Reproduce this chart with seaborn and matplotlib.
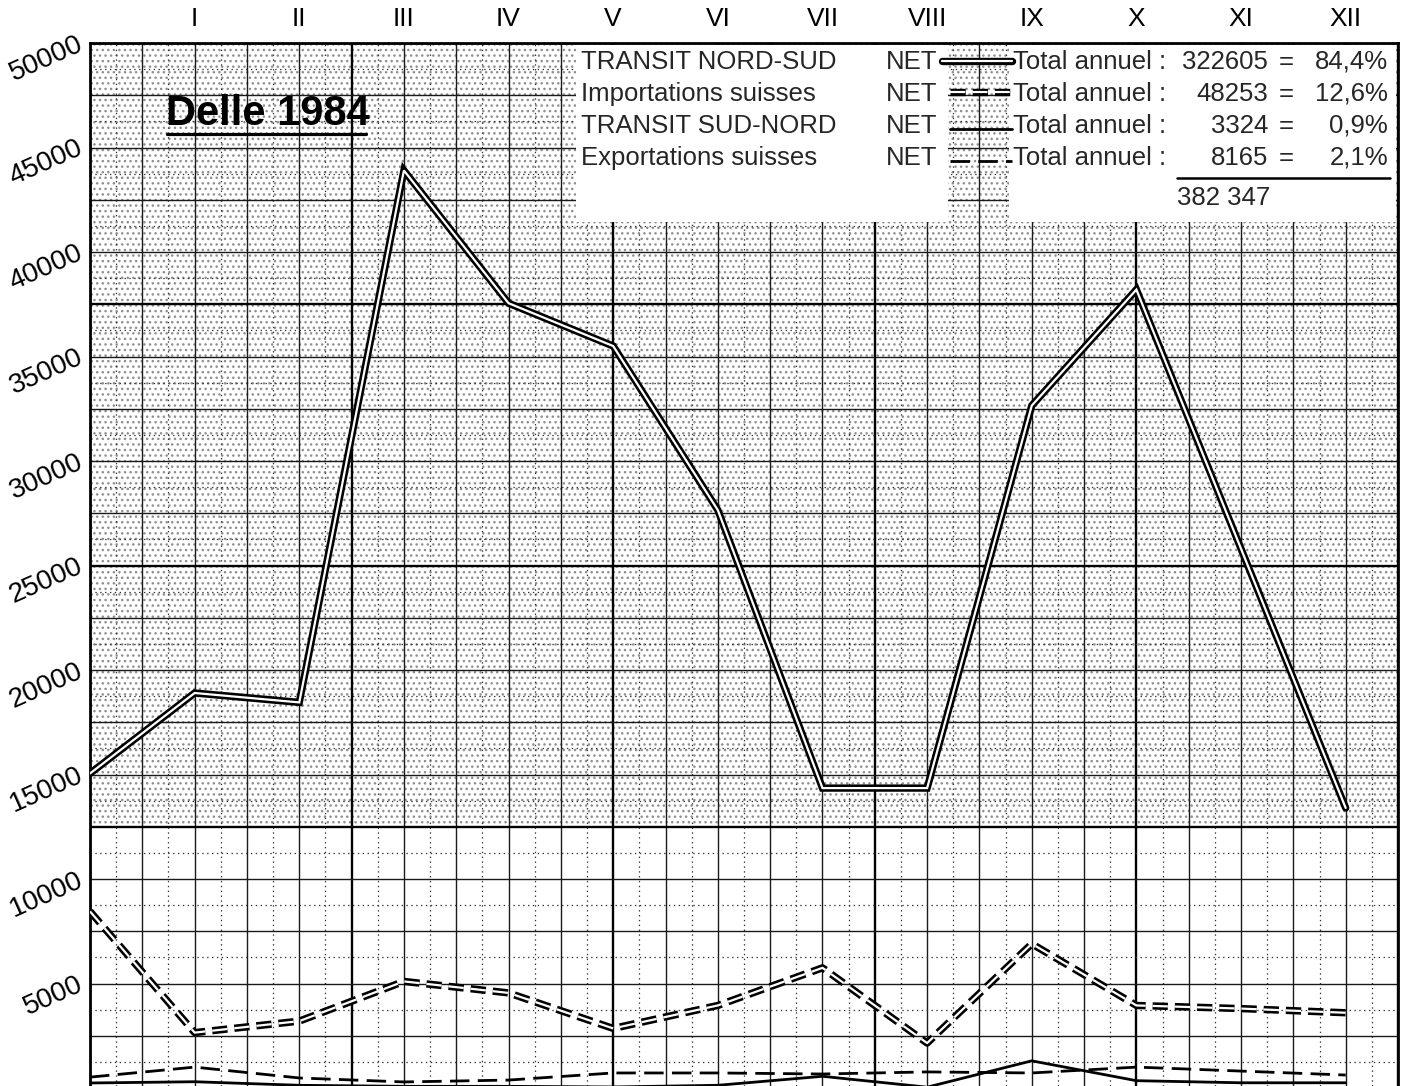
import numpy as np
import pandas as pd
import seaborn as sns
import matplotlib.pyplot as plt
import matplotlib.patheffects as pe
from matplotlib.patches import Rectangle
from matplotlib.lines import Line2D

W, H = 1403, 1086

# month 0 = December of the previous year (starting point of the curves)
months = ["XII 83", "I", "II", "III", "IV", "V", "VI", "VII", "VIII", "IX", "X", "XI", "XII"]
transit_nord_sud = [15050, 18900, 18450, 43900, 37550, 35500, 27650, 14350, 14350, 32650, 38200, 25800, 13400]
importations = [8450, 2650, 3200, 5100, 4550, 2850, 3950, 5750, 2150, 6900, 3950, 3800, 3600]
transit_sud_nord = [240, 300, 130, 80, 80, 50, 130, 560, 40, 1300, 350, 250, 250]
exportations = [520, 1000, 480, 290, 380, 720, 720, 670, 770, 720, 1000, 810, 620]

series_names = ["TRANSIT NORD-SUD", "Importations suisses", "TRANSIT SUD-NORD", "Exportations suisses"]
totals = ["322605", "48253", "3324", "8165"]
shares = ["84,4%", "12,6%", "0,9%", "2,1%"]
grand_total = "382 347"

df = pd.DataFrame({
    "pos": np.arange(len(months)),
    "nord_sud": transit_nord_sud,
    "imports": importations,
    "sud_nord": transit_sud_nord,
    "exports": exportations,
})

sns.set_theme(style="white")
plt.rcParams["font.family"] = ["Liberation Sans", "DejaVu Sans"]
plt.rcParams["lines.scale_dashes"] = False


def fx(px):
    return px / W


def fy(py):
    return 1 - py / H


fig = plt.figure(figsize=(W / 100, H / 100), dpi=100)
ax = fig.add_axes([fx(90), 0, 1308 / W, (H - 43) / H])
ax.set_xlim(0, 12.5)
ax.set_ylim(96, 50000)

# -----------------------------------------------------------------
# graph paper
# -----------------------------------------------------------------
for i, x in enumerate(np.arange(0, 12.51, 0.25)):
    if i % 10 == 0:
        ax.axvline(x, color="black", lw=1.7, zorder=1)
    elif i % 2 == 0:
        ax.axvline(x, color="#1a1a1a", lw=1.0, zorder=1)
    else:
        ax.axvline(x, color="#333333", lw=0.9, ls=(0, (1, 2.5)), zorder=1)

for i, y in enumerate(np.arange(0, 50001, 1250)):
    if i % 10 == 0:
        ax.axhline(y, color="black", lw=1.7, zorder=1)
    elif i % 2 == 0:
        ax.axhline(y, color="#1a1a1a", lw=1.0, zorder=1)
    else:
        ax.axhline(y, color="#333333", lw=0.9, ls=(0, (1, 2.5)), zorder=1)

# halftone dots of the printed paper (upper band only)
ax.add_patch(Rectangle((0, 12500), 12.5, 37500, facecolor="none",
                       edgecolor="#8f8f8f", hatch="...", lw=0, zorder=0.5))

# -----------------------------------------------------------------
# curves
# -----------------------------------------------------------------
double = [pe.Stroke(linewidth=5.3, foreground="black"), pe.Normal()]

sns.lineplot(data=df, x="pos", y="nord_sud", color="white", linewidth=1.6,
             path_effects=double, solid_joinstyle="miter", ax=ax, zorder=6)
sns.lineplot(data=df, x="pos", y="imports", color="white", linewidth=1.6,
             linestyle=(0, (11, 5)), dash_capstyle="butt",
             path_effects=double, ax=ax, zorder=6)
sns.lineplot(data=df, x="pos", y="sud_nord", color="black", linewidth=2.0,
             ax=ax, zorder=5)
sns.lineplot(data=df, x="pos", y="exports", color="black", linewidth=2.0,
             linestyle=(0, (14, 6)), dash_capstyle="butt", ax=ax, zorder=5)

# -----------------------------------------------------------------
# axes
# -----------------------------------------------------------------
ax.xaxis.tick_top()
ax.set_xticks(df["pos"][1:])
ax.set_xticklabels(months[1:])
ax.tick_params(axis="x", length=0, pad=9, labelsize=19, colors="black")

yt = list(range(5000, 50001, 5000))
ax.set_yticks(yt)
ax.set_yticklabels([str(v) for v in yt], rotation=24, rotation_mode="anchor",
                   ha="right", va="center")
ax.tick_params(axis="y", length=0, pad=6, labelsize=20, colors="black")
ax.set_xlabel("")
ax.set_ylabel("")

for side in ["left", "top", "right"]:
    ax.spines[side].set_color("black")
    ax.spines[side].set_linewidth(2.0)
ax.spines["bottom"].set_visible(False)

# -----------------------------------------------------------------
# title and key
# -----------------------------------------------------------------
fig.text(fx(166), fy(114), "Delle 1984", fontsize=30, fontweight="bold",
         ha="left", va="center", color="black")
fig.add_artist(Line2D([fx(167), fx(366)], [fy(134), fy(134)], color="black", lw=2.3))

fig.add_artist(Rectangle((fx(576), fy(222)), fx(948) - fx(576), fy(45) - fy(222),
                         transform=fig.transFigure, facecolor="white", edgecolor="none"))
fig.add_artist(Rectangle((fx(1009), fy(222)), fx(1396) - fx(1009), fy(45) - fy(222),
                         transform=fig.transFigure, facecolor="white", edgecolor="none"))

rows = [62, 94, 126, 158]
for name, tot, share, py in zip(series_names, totals, shares, rows):
    fig.text(fx(581), fy(py), name, fontsize=18.5, ha="left", va="center")
    fig.text(fx(886), fy(py), "NET", fontsize=18.5, ha="left", va="center")
    fig.text(fx(1013), fy(py), "Total annuel :", fontsize=18.5, ha="left", va="center")
    fig.text(fx(1268), fy(py), tot, fontsize=18.5, ha="right", va="center")
    fig.text(fx(1286), fy(py), "=", fontsize=18.5, ha="center", va="center")
    fig.text(fx(1388), fy(py), share, fontsize=18.5, ha="right", va="center")

fig.add_artist(Line2D([fx(1177), fx(1390)], [fy(178), fy(178)], color="black", lw=1.8))
fig.text(fx(1177), fy(198), grand_total, fontsize=18.5, ha="left", va="center")

# key samples
fig.add_artist(Line2D([fx(942), fx(1012)], [fy(61), fy(61)], color="white", lw=1.6,
                      path_effects=double))
fig.add_artist(Line2D([fx(950), fx(1012)], [fy(92), fy(92)], color="white", lw=1.6,
                      linestyle=(0, (11, 5)), dash_capstyle="butt", path_effects=double))
fig.add_artist(Line2D([fx(950), fx(1012)], [fy(129), fy(129)], color="black", lw=2.0))
fig.add_artist(Line2D([fx(950), fx(1012)], [fy(161), fy(161)], color="black", lw=2.0,
                      linestyle=(0, (14, 6)), dash_capstyle="butt"))

fig.savefig("out.png", dpi=100)
